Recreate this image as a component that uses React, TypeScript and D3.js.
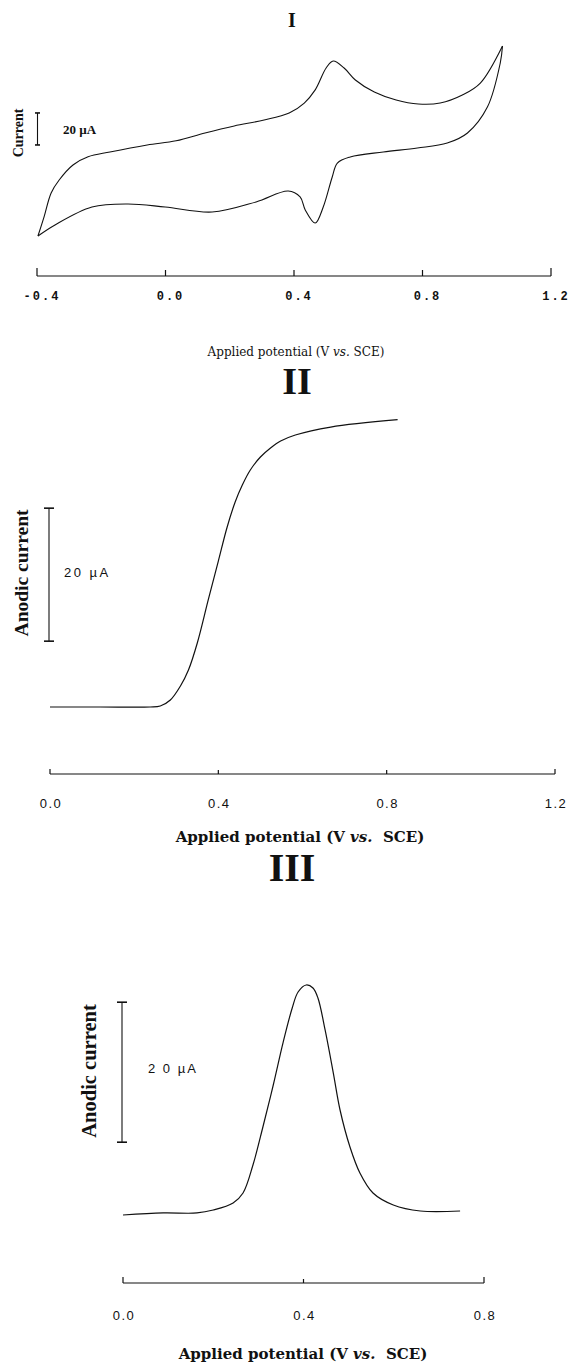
import React from "react";
import * as d3 from "d3";

// ---------- Panel I : cyclic voltammogram ----------
const cvForwardV = [-0.397, -0.378, -0.356, -0.331, -0.288, -0.241, -0.173, -0.057, 0.033, 0.123, 0.214, 0.307, 0.385, 0.432, 0.466, 0.5, 0.522, 0.556, 0.591, 0.65, 0.718, 0.787, 0.855, 0.924, 0.98, 1.049];
const cvForwardI = [0, 11.9, 26.9, 35, 44.4, 49.5, 52.5, 56.9, 59.5, 64.4, 68.8, 72.5, 76.9, 83.1, 91.3, 105, 109.4, 105, 97.5, 90, 85, 82.5, 83.1, 88.1, 95.6, 118.8];
const cvReverseV = [1.049, 1.042, 1.002, 0.94, 0.877, 0.784, 0.678, 0.575, 0.535, 0.519, 0.491, 0.466, 0.435, 0.419, 0.382, 0.282, 0.145, -0.001, -0.117, -0.229, -0.344, -0.397];
const cvReverseI = [118.8, 108.1, 80.6, 64.4, 58.1, 55, 52.5, 49.4, 45.6, 36.9, 18.1, 8.1, 16.3, 24.4, 28.1, 21.3, 15, 18.1, 20, 18.1, 6.9, 0];
const ticksI = [-0.4, 0.0, 0.4, 0.8, 1.2];
const tickLabelsI = ["-0.4", "0.0", "0.4", "0.8", "1.2"];
const scaleBarI = [56.9, 76.9];

// ---------- Panel II : linear sweep ----------
const lsvV = [0.0, 0.119, 0.238, 0.262, 0.286, 0.31, 0.329, 0.35, 0.376, 0.4, 0.421, 0.44, 0.457, 0.476, 0.5, 0.524, 0.548, 0.583, 0.667, 0.826];
const lsvI = [0, 0, 0, 0.15, 1.05, 3.16, 5.56, 9.62, 16.1, 21.95, 27.07, 30.83, 33.38, 35.64, 37.59, 38.95, 40.0, 40.9, 42.1, 43.2];
const ticksII = [0.0, 0.4, 0.8, 1.2];
const tickLabelsII = ["0.0", "0.4", "0.8", "1.2"];
const scaleBarII = [9.9, 29.9];

// ---------- Panel III : differential pulse ----------
const dpvV = [0.0, 0.089, 0.164, 0.2, 0.244, 0.266, 0.288, 0.31, 0.333, 0.355, 0.375, 0.388, 0.406, 0.421, 0.432, 0.448, 0.466, 0.481, 0.503, 0.525, 0.554, 0.599, 0.659, 0.747];
const dpvI = [0, 0.29, 0.29, 0.71, 1.71, 3.14, 7.14, 12.57, 18.57, 24.71, 29.57, 31.86, 32.86, 32.43, 31.0, 26.4, 20.3, 15.0, 9.71, 6.0, 3.14, 1.43, 0.57, 0.57];
const ticksIII = [0.0, 0.4, 0.8];
const tickLabelsIII = ["0.0", "0.4", "0.8"];
const scaleBarIII = [10.4, 30.4];

const zip = (a: number[], b: number[]) => a.map((v, i) => [v, b[i]] as [number, number]);

const SERIF = "'Liberation Serif', 'Times New Roman', serif";
const SERIF2 = "'DejaVu Serif', serif";
const SANS = "'Liberation Sans', Arial, sans-serif";
const MONO = "'Liberation Mono', 'Courier New', monospace";
const INK = "#111";

function ScaleBar({ x, y0, y1, cap }: { x: number; y0: number; y1: number; cap: number }) {
  return (
    <g stroke={INK} strokeWidth={1.1}>
      <line x1={x} x2={x} y1={y0} y2={y1} />
      <line x1={x - cap} x2={x + cap} y1={y0} y2={y0} strokeWidth={1.6} />
      <line x1={x - cap} x2={x + cap} y1={y1} y2={y1} strokeWidth={1.6} />
    </g>
  );
}

function Axis({ scale, ticks, labels, y, endTick, midTick, font, size, spacing, labelY, dx, weight }: any) {
  const [r0, r1] = scale.range();
  return (
    <g>
      <line x1={r0} x2={r1} y1={y} y2={y} stroke={INK} strokeWidth={1.2} />
      {ticks.map((t: number, i: number) => {
        const isEnd = i === 0 || i === ticks.length - 1;
        const h = isEnd ? endTick : midTick;
        return <line key={"t" + i} x1={scale(t)} x2={scale(t)} y1={y} y2={y - h} stroke={INK} strokeWidth={1.2} />;
      })}
      {labels.map((l: string, i: number) => (
        <text key={"l" + i} x={scale(ticks[i]) + dx} y={labelY} textAnchor="middle" fontFamily={font} fontSize={size} letterSpacing={spacing} fontWeight={weight} fill={INK}>
          {l}
        </text>
      ))}
    </g>
  );
}

export default function App() {
  // Panel I scales
  const x1 = d3.scaleLinear().domain([-0.4, 1.2]).range([37, 551]);
  const y1 = d3.scaleLinear().domain([0, 20]).range([236, 204]);
  const cvLine = d3.line<[number, number]>().x((d) => x1(d[0])).y((d) => y1(d[1])).curve(d3.curveCatmullRom.alpha(0.5));

  // Panel II scales
  const x2 = d3.scaleLinear().domain([0, 1.2]).range([50, 555]);
  const y2 = d3.scaleLinear().domain([0, 20]).range([707, 574]);
  const lsvLine = d3.line<[number, number]>().x((d) => x2(d[0])).y((d) => y2(d[1])).curve(d3.curveCatmullRom.alpha(0.5));

  // Panel III scales
  const x3 = d3.scaleLinear().domain([0, 0.8]).range([123, 484]);
  const y3 = d3.scaleLinear().domain([0, 20]).range([1215, 1075]);
  const dpvLine = d3.line<[number, number]>().x((d) => x3(d[0])).y((d) => y3(d[1])).curve(d3.curveCatmullRom.alpha(0.5));

  return (
    <div style={{ position: "absolute", left: 0, top: 0 }}>
      <svg width={573} height={1365} style={{ display: "block", background: "#fff" }}>
        {/* ===== Panel I ===== */}
        <text x={292} y={27} textAnchor="middle" fontFamily={SERIF} fontWeight="bold" fontSize={20} fill={INK}>I</text>
        <path d={cvLine(zip(cvForwardV, cvForwardI)) || ""} fill="none" stroke={INK} strokeWidth={1.1} />
        <path d={cvLine(zip(cvReverseV, cvReverseI)) || ""} fill="none" stroke={INK} strokeWidth={1.1} />
        <ScaleBar x={37.5} y0={y1(scaleBarI[1])} y1={y1(scaleBarI[0])} cap={2.5} />
        <text x={63} y={134} fontFamily={SERIF} fontWeight="bold" fontSize={13} fill={INK}>20 µA</text>
        <text transform="translate(23,133) rotate(-90)" textAnchor="middle" fontFamily={SERIF} fontWeight="bold" fontSize={14} fill={INK}>Current</text>
        <Axis scale={x1} ticks={ticksI} labels={tickLabelsI} y={276} endTick={8} midTick={6} font={MONO} size={12} spacing={2} labelY={300} dx={5} weight="bold" />
        <text x={296} y={356} textAnchor="middle" fontFamily={SERIF2} fontSize={12} fill={INK}>
          Applied potential (V <tspan fontStyle="italic">vs.</tspan> SCE)
        </text>

        {/* ===== Panel II ===== */}
        <text x={297} y={394} textAnchor="middle" fontFamily={SERIF} fontWeight="bold" fontSize={38} fill={INK}>II</text>
        <path d={lsvLine(zip(lsvV, lsvI)) || ""} fill="none" stroke={INK} strokeWidth={1.2} />
        <ScaleBar x={49} y0={y2(scaleBarII[1])} y1={y2(scaleBarII[0])} cap={5} />
        <text x={64} y={577} fontFamily={SANS} fontSize={13} letterSpacing={2.5} fill={INK}>20 µA</text>
        <text transform="translate(28,573) rotate(-90)" textAnchor="middle" fontFamily={SERIF} fontWeight="bold" fontSize={19.5} fill={INK}>Anodic current</text>
        <Axis scale={x2} ticks={ticksII} labels={tickLabelsII} y={774} endTick={5} midTick={4} font={SANS} size={13} spacing={1.5} labelY={808} dx={1} weight="normal" />
        <text x={300} y={842} textAnchor="middle" fontFamily={SERIF2} fontWeight="bold" fontSize={15} fill={INK}>
          Applied potential (V <tspan fontStyle="italic">vs.</tspan>{"\u00a0 "}SCE)
        </text>

        {/* ===== Panel III ===== */}
        <text x={292} y={881} textAnchor="middle" fontFamily={SERIF} fontWeight="bold" fontSize={40} fill={INK}>III</text>
        <path d={dpvLine(zip(dpvV, dpvI)) || ""} fill="none" stroke={INK} strokeWidth={1.2} />
        <ScaleBar x={122} y0={y3(scaleBarIII[1])} y1={y3(scaleBarIII[0])} cap={5} />
        <text x={148} y={1073} fontFamily={SANS} fontSize={13} letterSpacing={2} fill={INK}>2 0 µA</text>
        <text transform="translate(96,1071) rotate(-90)" textAnchor="middle" fontFamily={SERIF} fontWeight="bold" fontSize={20.5} fill={INK}>Anodic current</text>
        <Axis scale={x3} ticks={ticksIII} labels={tickLabelsIII} y={1283} endTick={6} midTick={4} font={SANS} size={13} spacing={1.5} labelY={1320} dx={1} weight="normal" />
        <text x={303} y={1359} textAnchor="middle" fontFamily={SERIF2} fontWeight="bold" fontSize={15} fill={INK}>
          Applied potential (V <tspan fontStyle="italic">vs.</tspan>{"\u00a0 "}SCE)
        </text>
      </svg>
    </div>
  );
}
